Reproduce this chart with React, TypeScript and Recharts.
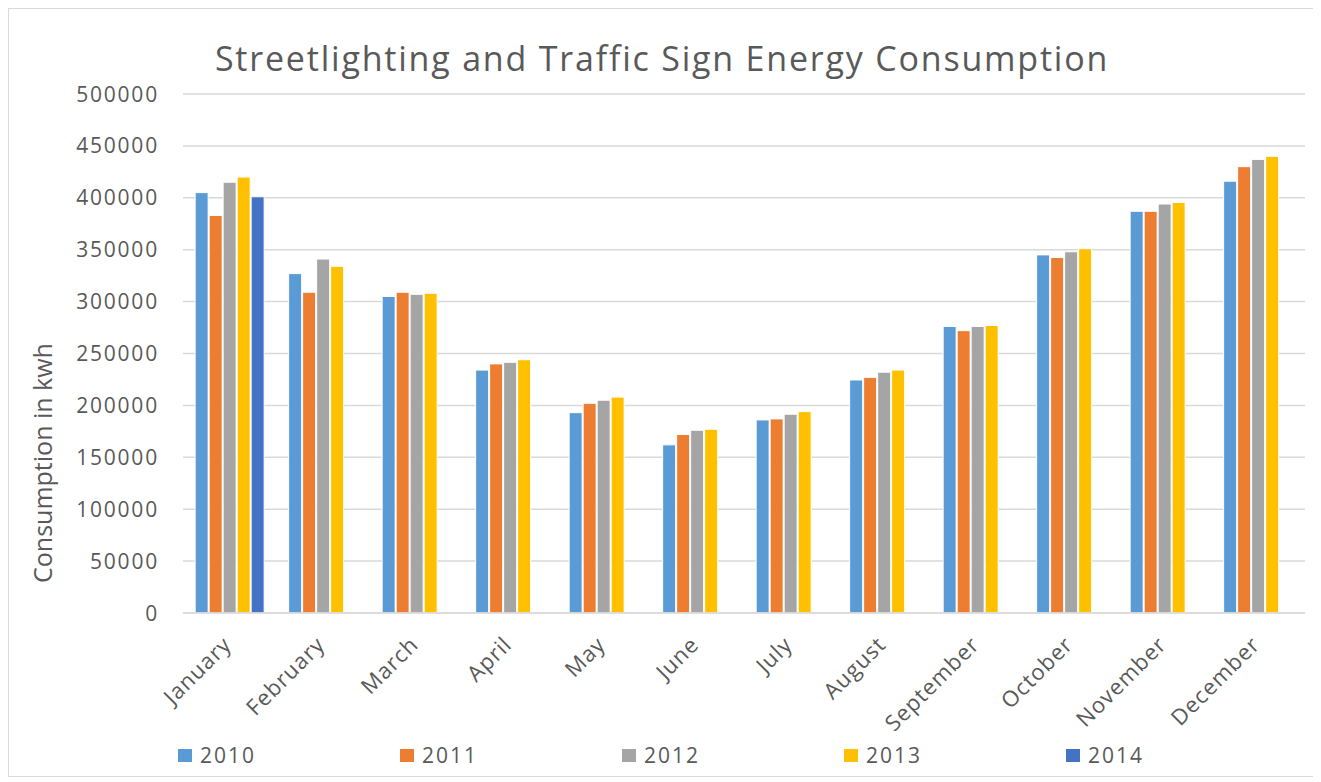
import React from "react";
import { BarChart, Bar, XAxis, YAxis, CartesianGrid, Legend } from "recharts";

const months = ["January", "February", "March", "April", "May", "June", "July", "August", "September", "October", "November", "December"];
const y2010 = [405000, 327000, 305000, 234000, 193000, 162000, 186000, 224500, 276000, 345000, 387000, 416000];
const y2011 = [383000, 309000, 309000, 240000, 202000, 172000, 187000, 227000, 272000, 342500, 387000, 430000];
const y2012 = [415000, 341000, 307000, 241500, 205000, 176000, 191500, 232000, 276000, 348000, 394000, 437000];
const y2013 = [420000, 334000, 308000, 244000, 208000, 177000, 194000, 234000, 277000, 351000, 395500, 440000];
const y2014 = [401000, null, null, null, null, null, null, null, null, null, null, null];
const yTicks = [0, 50000, 100000, 150000, 200000, 250000, 300000, 350000, 400000, 450000, 500000];

const seriesNames = ["2010", "2011", "2012", "2013", "2014"];
const seriesColors = ["#5B9BD5", "#ED7D31", "#A5A5A5", "#FFC000", "#4472C4"];

const data = months.map((m, i) => ({
  month: m,
  "2010": y2010[i],
  "2011": y2011[i],
  "2012": y2012[i],
  "2013": y2013[i],
  "2014": y2014[i],
}));

const FONT = "'Open Sans', sans-serif";
const TEXT = "#595959";

function MonthTick(props: any) {
  const { x, y, payload } = props;
  return (
    <g transform={`translate(${x + 3},${y + 25})`}>
      <text x={0} y={0} textAnchor="end" transform="rotate(-45)" fill={TEXT} fontSize={22} letterSpacing={1} fontFamily={FONT}>
        {payload.value}
      </text>
    </g>
  );
}

function YTick(props: any) {
  const { x, y, payload } = props;
  return (
    <text x={x} y={y} dy="0.36em" textAnchor="end" fill={TEXT} fontSize={21} letterSpacing={1.8} fontFamily={FONT}>
      {payload.value}
    </text>
  );
}

function renderLegend() {
  return (
    <div style={{ display: "flex", fontFamily: FONT, fontSize: 21, letterSpacing: 2, color: TEXT, lineHeight: "26px" }}>
      {seriesNames.map((n, i) => (
        <div key={n} style={{ width: 222, display: "flex", alignItems: "center" }}>
          <span style={{ display: "inline-block", width: 14, height: 13, background: seriesColors[i], marginRight: 8 }} />
          <span>{n}</span>
        </div>
      ))}
    </div>
  );
}

function YLabel() {
  return (
    <text x={43} y={454} transform="rotate(-90, 43, 454)" textAnchor="middle" fill={TEXT} fontSize={25} fontFamily={FONT}>
      Consumption in kwh
    </text>
  );
}

export default function App() {
  return (
    <div style={{ position: "relative", width: 1306, height: 767, border: "1px solid #d9d9d9", background: "#fff" }}>
      <div
        style={{
          position: "absolute",
          top: 27,
          left: 0,
          width: 1306,
          textAlign: "center",
          fontFamily: FONT,
          fontSize: 34,
          letterSpacing: 1.8,
          color: TEXT,
          lineHeight: "44px",
        }}
      >
        Streetlighting and Traffic Sign Energy Consumption
      </div>
      <BarChart
        width={1306}
        height={767}
        data={data}
        margin={{ top: 85, right: 10, left: 0, bottom: 0 }}
        barCategoryGap="13%"
        barGap={1}
      >
        <CartesianGrid vertical={false} stroke="#d9d9d9" strokeWidth={1.5} />
        <XAxis
          dataKey="month"
          interval={0}
          height={163}
          tickLine={false}
          axisLine={{ stroke: "#d9d9d9", strokeWidth: 1.5 }}
          tick={<MonthTick />}
        />
        <YAxis
          width={174}
          domain={[0, 500000]}
          ticks={yTicks}
          axisLine={false}
          tickLine={false}
          tickSize={0}
          tickMargin={24}
          tick={<YTick />}
          label={<YLabel />}
        />
        <Legend
          verticalAlign="middle"
          layout="horizontal"
          wrapperStyle={{ top: 733, left: 169, width: 1120, height: 26 }}
          content={renderLegend}
        />
        {seriesNames.map((n, i) => (
          <Bar key={n} dataKey={n} fill={seriesColors[i]} stroke="#ffffff" strokeWidth={1} isAnimationActive={false} />
        ))}
      </BarChart>
    </div>
  );
}
